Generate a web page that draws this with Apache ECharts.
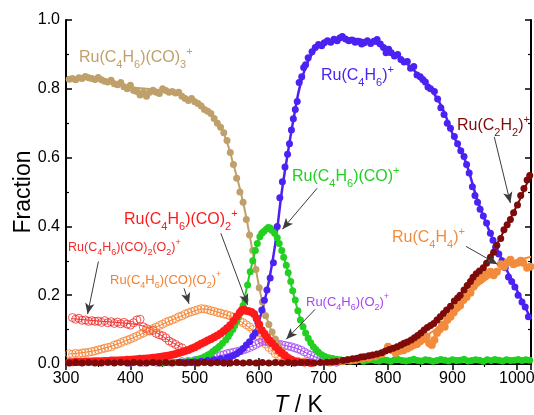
<!DOCTYPE html>
<html><head><meta charset="utf-8">
<script src="https://cdn.jsdelivr.net/npm/echarts@6/dist/echarts.min.js"></script>
<style>html,body{margin:0;padding:0;background:#fff}#c{width:534px;height:415px}</style>
</head><body><div id="c"></div>
<script>
// ---------- data ----------
const xTicks = [300, 400, 500, 600, 700, 800, 900, 1000];
const yTicks = [0.0, 0.2, 0.4, 0.6, 0.8, 1.0];

// Ru(C4H6)(CO)3+
const ptsCO3 = [[305,0.828],[310,0.83],[315,0.826],[320,0.832],[325,0.83],[330,0.836],[335,0.832],[340,0.83],[345,0.827],[350,0.833],[355,0.826],[360,0.822],[365,0.82],[370,0.825],[375,0.815],[380,0.812],[385,0.818],[390,0.806],[395,0.8],[400,0.81],[405,0.795],[410,0.792],[415,0.782],[420,0.79],[425,0.778],[430,0.79],[435,0.796],[440,0.79],[445,0.786],[450,0.8],[455,0.795],[460,0.79],[465,0.792],[470,0.788],[475,0.79],[480,0.778],[485,0.772],[490,0.766],[495,0.772],[500,0.762],[505,0.757],[510,0.75],[515,0.74],[520,0.735],[525,0.728],[530,0.714],[535,0.7],[540,0.688],[545,0.672],[550,0.65],[555,0.615],[560,0.58],[565,0.54],[570,0.5],[575,0.47],[580,0.42],[585,0.375],[590,0.33],[595,0.275],[600,0.222],[605,0.18],[610,0.14],[615,0.115],[620,0.093],[625,0.073],[630,0.055],[635,0.04],[640,0.028],[645,0.02],[650,0.014],[660,0.008],[670,0.005],[680,0.004]];
const fitCO3 = [[305,0.83],[350,0.827],[400,0.805],[450,0.795],[480,0.78],[510,0.752],[530,0.715],[545,0.67],[560,0.58],[575,0.47],[590,0.325],[605,0.18],[620,0.09],[635,0.04],[650,0.015],[680,0.004],[720,0.001]];

// Ru(C4H6)+
const ptsC4H6 = [[480,0.004],[490,0.005],[500,0.006],[510,0.008],[520,0.01],[530,0.012],[540,0.015],[550,0.018],[555,0.02],[560,0.025],[565,0.03],[570,0.036],[575,0.045],[580,0.055],[585,0.065],[590,0.08],[594,0.09],[598,0.12],[604,0.157],[608,0.185],[612,0.215],[617,0.25],[622,0.294],[628,0.4],[632,0.483],[636,0.53],[640,0.573],[644,0.61],[647,0.64],[650,0.68],[653,0.713],[656,0.74],[659,0.763],[662,0.818],[666,0.835],[669,0.862],[672,0.87],[676,0.89],[682,0.908],[687,0.92],[692,0.929],[697,0.925],[701,0.934],[706,0.94],[711,0.935],[716,0.944],[721,0.94],[725,0.948],[729,0.952],[734,0.945],[739,0.94],[744,0.942],[749,0.935],[754,0.938],[759,0.93],[763,0.934],[768,0.94],[773,0.932],[778,0.938],[783,0.943],[788,0.93],[793,0.92],[797,0.905],[801,0.915],[805,0.905],[810,0.895],[815,0.9],[820,0.885],[825,0.878],[830,0.879],[835,0.86],[840,0.865],[845,0.84],[850,0.835],[854,0.827],[858,0.82],[862,0.805],[866,0.8],[872,0.792],[877,0.77],[882,0.745],[887,0.725],[892,0.7],[897,0.685],[903,0.661],[908,0.64],[913,0.62],[918,0.603],[922,0.58],[926,0.555],[931,0.515],[935,0.49],[939,0.47],[943,0.45],[948,0.43],[953,0.41],[959,0.38],[963,0.36],[967,0.34],[972,0.32],[977,0.3],[982,0.28],[987,0.253],[992,0.24],[997,0.224],[1002,0.2],[1008,0.18],[1013,0.166],[1018,0.137]];
const fitC4H6 = [[500,0.005],[540,0.014],[565,0.03],[580,0.052],[595,0.1],[605,0.16],[615,0.24],[625,0.35],[635,0.5],[645,0.62],[655,0.73],[665,0.82],[680,0.895],[700,0.932],[730,0.946],[760,0.942],[790,0.925],[820,0.888],[850,0.835],[880,0.76],[900,0.67],[920,0.59],[940,0.47],[960,0.375],[980,0.29],[1000,0.215],[1022,0.13]];

// Ru(C4H6)(CO)+
const ptsCO = [[450,0.003],[460,0.004],[470,0.005],[480,0.006],[490,0.008],[500,0.011],[505,0.014],[510,0.017],[515,0.021],[520,0.026],[524,0.03],[528,0.036],[532,0.042],[536,0.047],[539,0.052],[543,0.06],[548,0.07],[552,0.08],[555,0.09],[559,0.1],[562,0.112],[565,0.125],[568,0.137],[571,0.15],[575,0.17],[578,0.186],[582,0.23],[586,0.268],[590,0.3],[594,0.33],[597,0.35],[601,0.37],[604,0.38],[607,0.385],[611,0.392],[614,0.397],[617,0.395],[620,0.388],[624,0.38],[628,0.367],[631,0.35],[635,0.33],[638,0.31],[642,0.287],[645,0.265],[649,0.24],[652,0.213],[656,0.186],[660,0.155],[664,0.128],[668,0.108],[672,0.09],[676,0.075],[680,0.062],[684,0.05],[688,0.042],[692,0.034],[697,0.027],[702,0.022],[708,0.018],[714,0.016],[720,0.014],[726,0.012],[732,0.01],[738,0.013],[744,0.009],[750,0.011],[756,0.012],[762,0.008],[768,0.011],[774,0.013],[780,0.01],[786,0.009],[792,0.012],[798,0.011],[804,0.008],[810,0.012],[816,0.013],[822,0.01],[828,0.009],[834,0.011],[840,0.014],[846,0.01],[852,0.009],[858,0.012],[864,0.011],[870,0.008],[876,0.01],[882,0.013],[888,0.011],[894,0.009],[900,0.012],[906,0.01],[912,0.011],[918,0.014],[924,0.009],[930,0.01],[936,0.012],[942,0.011],[948,0.008],[954,0.012],[960,0.01],[966,0.013],[972,0.011],[978,0.009],[984,0.012],[990,0.01],[996,0.011],[1002,0.013],[1008,0.01],[1014,0.012],[1020,0.011]];
const fitCO = [[470,0.005],[500,0.011],[520,0.025],[540,0.05],[555,0.085],[565,0.125],[575,0.175],[585,0.26],[595,0.335],[605,0.385],[615,0.398],[625,0.375],[635,0.33],[645,0.265],[655,0.19],[665,0.125],[675,0.08],[690,0.04],[705,0.02],[730,0.012],[800,0.01],[900,0.01],[1022,0.01]];

// Ru(C4H6)(CO)2+
const ptsCO2 = [[305,0.005],[310,0.005],[315,0.006],[320,0.006],[325,0.006],[330,0.007],[335,0.007],[340,0.007],[345,0.008],[350,0.008],[355,0.008],[360,0.009],[365,0.009],[370,0.01],[375,0.01],[380,0.01],[385,0.011],[390,0.011],[395,0.012],[400,0.012],[405,0.013],[410,0.014],[415,0.015],[420,0.015],[425,0.016],[430,0.017],[435,0.018],[440,0.019],[445,0.02],[450,0.022],[455,0.023],[460,0.025],[465,0.027],[470,0.029],[475,0.032],[480,0.035],[485,0.038],[490,0.041],[495,0.045],[500,0.049],[505,0.054],[510,0.059],[515,0.063],[520,0.068],[525,0.073],[530,0.078],[535,0.083],[540,0.089],[545,0.096],[550,0.104],[555,0.113],[560,0.125],[565,0.138],[570,0.15],[573,0.156],[576,0.158],[580,0.155],[584,0.153],[588,0.151],[592,0.145],[596,0.132],[600,0.115],[604,0.098],[608,0.088],[612,0.078],[616,0.068],[620,0.06],[625,0.05],[630,0.04],[635,0.032],[640,0.024],[645,0.017],[650,0.012],[655,0.008],[660,0.006],[670,0.004],[680,0.003]];
const fitCO2 = [[305,0.005],[350,0.008],[400,0.012],[450,0.022],[500,0.049],[530,0.078],[550,0.104],[565,0.138],[576,0.157],[588,0.151],[596,0.132],[605,0.095],[620,0.06],[640,0.024],[660,0.006],[690,0.001]];

// Ru(C4H6)(CO)2(O2)+
const ptsCO2O2 = [[310,0.135],[315,0.13],[320,0.133],[325,0.127],[330,0.128],[335,0.124],[340,0.126],[345,0.124],[350,0.125],[355,0.121],[360,0.126],[365,0.12],[370,0.123],[375,0.118],[380,0.122],[385,0.117],[390,0.121],[395,0.116],[400,0.113],[405,0.12],[410,0.128],[415,0.13],[420,0.108],[425,0.103],[430,0.096],[435,0.098],[440,0.089],[445,0.085],[450,0.082],[455,0.076],[460,0.067],[465,0.062],[470,0.057],[475,0.051],[480,0.047]];
const fitCO2O2 = [[308,0.132],[350,0.125],[400,0.117],[420,0.11],[440,0.092],[460,0.068],[480,0.047]];

// Ru(C4H6)(CO)(O2)+
const ptsCOO2 = [[305,0.03],[310,0.028],[315,0.031],[320,0.029],[325,0.032],[330,0.033],[335,0.034],[340,0.036],[345,0.038],[350,0.041],[355,0.043],[360,0.046],[365,0.048],[370,0.05],[375,0.055],[380,0.058],[385,0.062],[390,0.066],[395,0.069],[400,0.073],[405,0.077],[410,0.081],[415,0.086],[420,0.09],[425,0.095],[430,0.1],[435,0.103],[440,0.107],[445,0.112],[450,0.116],[455,0.121],[460,0.125],[465,0.128],[470,0.132],[475,0.137],[480,0.14],[485,0.145],[490,0.149],[495,0.152],[500,0.155],[505,0.158],[510,0.161],[515,0.16],[520,0.158],[525,0.155],[530,0.153],[535,0.15],[540,0.148],[545,0.145],[550,0.143],[555,0.14],[560,0.136],[565,0.131],[570,0.125],[575,0.12],[580,0.114],[585,0.108],[590,0.1],[595,0.09],[600,0.08],[605,0.07],[610,0.058],[615,0.048],[620,0.04],[625,0.03],[630,0.024],[635,0.019],[640,0.015],[645,0.012],[650,0.01],[660,0.008],[670,0.006]];
const fitCOO2 = [[305,0.029],[350,0.041],[400,0.073],[450,0.116],[500,0.155],[512,0.16],[540,0.148],[570,0.125],[600,0.08],[625,0.03],[650,0.01],[680,0.004]];

// Ru(C4H6)(O2)+
const ptsO2 = [[400,0.004],[420,0.005],[440,0.005],[460,0.006],[480,0.007],[490,0.008],[500,0.01],[505,0.011],[510,0.013],[515,0.014],[520,0.016],[525,0.018],[530,0.02],[535,0.022],[540,0.025],[545,0.027],[550,0.03],[555,0.032],[560,0.034],[565,0.036],[570,0.038],[575,0.041],[580,0.044],[585,0.048],[590,0.052],[595,0.057],[600,0.062],[605,0.065],[610,0.066],[615,0.064],[620,0.062],[625,0.06],[630,0.058],[635,0.056],[640,0.054],[645,0.052],[650,0.05],[655,0.047],[660,0.044],[665,0.04],[670,0.035],[675,0.03],[680,0.026],[685,0.022],[690,0.019],[695,0.016],[700,0.013],[705,0.01],[710,0.008],[720,0.005]];
const fitO2 = [[400,0.004],[480,0.007],[520,0.016],[560,0.034],[590,0.052],[610,0.065],[640,0.054],[660,0.044],[680,0.026],[700,0.013],[730,0.003]];

// Ru(C2H2)+
const ptsC2H2 = [[305,0.003],[315,0.004],[325,0.003],[335,0.004],[345,0.003],[355,0.003],[365,0.004],[375,0.003],[385,0.004],[395,0.003],[405,0.004],[415,0.003],[425,0.003],[435,0.004],[445,0.003],[455,0.004],[465,0.003],[475,0.004],[485,0.003],[495,0.004],[505,0.003],[515,0.004],[525,0.003],[535,0.004],[545,0.003],[555,0.003],[565,0.004],[575,0.003],[585,0.004],[595,0.003],[605,0.004],[615,0.003],[625,0.004],[635,0.003],[645,0.004],[655,0.003],[665,0.004],[675,0.004],[685,0.003],[695,0.004],[705,0.005],[713,0.006],[720,0.007],[730,0.01],[737,0.012],[745,0.015],[752,0.017],[758,0.02],[763,0.021],[770,0.024],[776,0.026],[783,0.029],[790,0.033],[796,0.038],[802,0.042],[808,0.046],[814,0.05],[820,0.055],[825,0.06],[830,0.064],[836,0.07],[841,0.076],[846,0.083],[851,0.09],[856,0.099],[861,0.106],[866,0.112],[871,0.118],[876,0.128],[881,0.137],[886,0.147],[891,0.157],[897,0.168],[903,0.183],[908,0.192],[912,0.2],[918,0.215],[923,0.228],[928,0.24],[932,0.252],[937,0.262],[942,0.27],[948,0.28],[953,0.293],[959,0.31],[964,0.325],[969,0.345],[975,0.365],[980,0.39],[985,0.405],[990,0.42],[995,0.44],[1001,0.462],[1006,0.49],[1011,0.51],[1016,0.535],[1020,0.548]];
const fitC2H2 = [[305,0.003],[700,0.004],[750,0.014],[800,0.038],[850,0.088],[900,0.175],[950,0.29],[1000,0.46],[1022,0.555]];

// Ru(C4H4)+
const ptsC4H4 = [[710,0.004],[720,0.006],[730,0.008],[740,0.01],[750,0.012],[760,0.015],[770,0.018],[780,0.022],[790,0.028],[800,0.05],[806,0.04],[812,0.032],[818,0.038],[824,0.04],[830,0.045],[835,0.05],[840,0.055],[845,0.058],[850,0.066],[855,0.072],[860,0.08],[864,0.06],[868,0.055],[872,0.07],[876,0.09],[880,0.1],[884,0.115],[888,0.108],[892,0.128],[897,0.137],[902,0.15],[907,0.163],[912,0.17],[917,0.186],[922,0.195],[928,0.207],[933,0.225],[939,0.239],[944,0.245],[948,0.253],[953,0.262],[959,0.268],[964,0.258],[969,0.268],[975,0.29],[980,0.283],[985,0.295],[990,0.303],[995,0.29],[1001,0.294],[1006,0.3],[1010,0.294],[1016,0.28],[1021,0.283]];
const fitC4H4 = [[700,0.003],[750,0.012],[800,0.035],[850,0.072],[880,0.11],[900,0.145],[920,0.19],[940,0.228],[960,0.255],[980,0.282],[1000,0.3],[1022,0.312]];

// ---------- rendering ----------
const FONT = '"Liberation Sans", Arial, sans-serif';
const C = {
  co3: '#c0a06a', c4h6: '#4b22f2', co: '#22d022', co2: '#ff1a1a', co2o2: '#f02a2a',
  coo2: '#f5812e', o2: '#a446f5', c2h2: '#7e0a0a', c4h4: '#f28c3c'
};

function pts(data, color, open, size) {
  return {
    type: 'scatter', data, symbol: 'circle', symbolSize: size || 7, silent: true,
    itemStyle: open ? {color: 'rgba(0,0,0,0)', borderColor: color, borderWidth: 1}
                    : {color: color, opacity: 1},
    z: 3
  };
}
function fit(data, color, w, dashed) {
  return {
    type: 'line', data, smooth: 0.4, showSymbol: false, symbol: 'none', silent: true,
    lineStyle: {color, width: w, type: dashed ? 'dashed' : 'solid'}, z: 2
  };
}

const series = [
  fit(fitCO2O2, C.co2o2, 1), pts(ptsCO2O2, C.co2o2, true, 8),
  fit(fitCOO2, C.coo2, 1), pts(ptsCOO2, C.coo2, true, 8),
  fit(fitO2, C.o2, 1), pts(ptsO2, C.o2, true, 8),
  fit(fitCO3, C.co3, 2), pts(ptsCO3, C.co3, false, 7),
  fit(fitCO, C.co, 2), pts(ptsCO, C.co, false, 7),
  fit(fitC4H6, C.c4h6, 2.5), pts(ptsC4H6, C.c4h6, false, 7),
  fit(fitCO2, C.co2, 2), pts(ptsCO2, C.co2, false, 8),
  fit(fitC4H4, C.c4h4, 2), pts(ptsC4H4, C.c4h4, false, 8),
  fit(fitC2H2, C.c2h2, 2), pts(ptsC2H2, C.c2h2, false, 7)
];

// arrows (annotation, data coordinates: from -> to)
const arrows = [
  [[350.3,0.298],[333.5,0.145]],
  [[483.3,0.220],[491.0,0.175]],
  [[540.4,0.380],[582.0,0.172]],
  [[690.0,0.511],[636.0,0.392]],
  [[686.9,0.159],[642.0,0.072]],
  [[965.0,0.660],[990.0,0.468]],
  [[921.0,0.342],[970.0,0.290]]
];
series.push({
  type: 'line', data: [], silent: true,
  markLine: {
    silent: true, animation: false, symbol: ['none', 'arrow'], symbolSize: [7, 11],
    label: {show: false},
    lineStyle: {color: '#3c3c3c', width: 1, type: 'solid'},
    emphasis: {disabled: true},
    data: arrows.map(a => [{coord: a[0]}, {coord: a[1]}])
  }
});

// formula labels: text notation, _x subscript, ^x superscript
function rich(t) {
  let out = '', buf = '';
  const flush = () => { if (buf) { out += '{m|' + buf + '}'; buf = ''; } };
  for (let i = 0; i < t.length; i++) {
    const ch = t[i];
    if (ch === '_' || ch === '^') { flush(); out += '{' + (ch === '_' ? 's' : 'p') + '|' + t[++i] + '}'; }
    else buf += ch;
  }
  flush();
  return out;
}
function richStyles(fs, color) {
  const sf = Math.round(fs * 0.7);
  const lh = Math.round(fs * 1.5);
  return {
    m: {fontSize: fs, fontFamily: FONT, fill: color, lineHeight: lh, verticalAlign: 'middle'},
    s: {fontSize: sf, fontFamily: FONT, fill: color, lineHeight: Math.round(lh * 0.5), verticalAlign: 'bottom'},
    p: {fontSize: sf, fontFamily: FONT, fill: color, lineHeight: Math.round(lh * 0.42), verticalAlign: 'top'}
  };
}
const labels = [
  {t: 'Ru(C_4H_6)(CO)_3^+', x: 79, y: 58, fs: 16, c: C.co3},
  {t: 'Ru(C_4H_6)^+', x: 321, y: 76, fs: 16, c: C.c4h6},
  {t: 'Ru(C_2H_2)^+', x: 457, y: 126, fs: 16, c: C.c2h2},
  {t: 'Ru(C_4H_6)(CO)^+', x: 292, y: 177, fs: 16, c: C.co},
  {t: 'Ru(C_4H_6)(CO)_2^+', x: 124, y: 220, fs: 16, c: C.co2},
  {t: 'Ru(C_4H_6)(CO)_2(O_2)^+', x: 68, y: 248, fs: 12.5, c: C.co2o2},
  {t: 'Ru(C_4H_6)(CO)(O_2)^+', x: 110, y: 280, fs: 13, c: C.coo2},
  {t: 'Ru(C_4H_6)(O_2)^+', x: 306, y: 302, fs: 13, c: C.o2},
  {t: 'Ru(C_4H_4)^+', x: 392, y: 238, fs: 16, c: C.c4h4}
];
const graphic = labels.map(l => ({
  type: 'text', x: l.x, y: l.y, silent: true, z: 10,
  style: {text: rich(l.t), rich: richStyles(l.fs, l.c), align: 'left', verticalAlign: 'middle', fill: l.c, font: l.fs + 'px ' + FONT}
}));

const axisCommon = {
  axisLine: {show: true, lineStyle: {color: '#000', width: 2}},
  axisTick: {show: true, inside: true, length: 6, lineStyle: {color: '#000', width: 1.5}},
  minorTick: {show: true, splitNumber: 2, length: 3, lineStyle: {color: '#000', width: 1.2}},
  splitLine: {show: false}
};

const chart = echarts.init(document.getElementById('c'), null, {renderer: 'canvas'});
chart.setOption({
  animation: false,
  backgroundColor: '#fff',
  grid: {left: 66, right: 3, top: 20, bottom: 51, containLabel: false, outerBoundsMode: 'none'},
  xAxis: [
    Object.assign({
      type: 'value', min: xTicks[0], max: 1022, interval: 100, position: 'bottom',
      axisLabel: {fontSize: 16, color: '#000', fontFamily: FONT, margin: 7,
        formatter: v => xTicks.includes(v) ? String(v) : ''},
      name: '{i|T} / K', nameLocation: 'middle', nameGap: 30,
      nameTextStyle: {fontSize: 23, color: '#000', fontFamily: FONT,
        rich: {i: {fontSize: 23, fontStyle: 'italic', fontFamily: FONT, color: '#000'}}}
    }, axisCommon),
    Object.assign({
      type: 'value', min: xTicks[0], max: 1022, interval: 100, position: 'top',
      axisLabel: {show: false}
    }, axisCommon)
  ],
  yAxis: [
    Object.assign({
      type: 'value', min: 0, max: 1, interval: 0.2, position: 'left',
      axisLabel: {fontSize: 16, color: '#000', fontFamily: FONT, margin: 6,
        formatter: v => v.toFixed(1)},
      name: 'Fraction', nameLocation: 'middle', nameGap: 31, nameRotate: 90,
      nameMoveOverlap: false,
      nameTextStyle: {fontSize: 23, color: '#000', fontFamily: FONT}
    }, axisCommon),
    Object.assign({
      type: 'value', min: 0, max: 1, interval: 0.2, position: 'right',
      axisLabel: {show: false}
    }, axisCommon)
  ],
  series,
  graphic
});
</script>
</body></html>
